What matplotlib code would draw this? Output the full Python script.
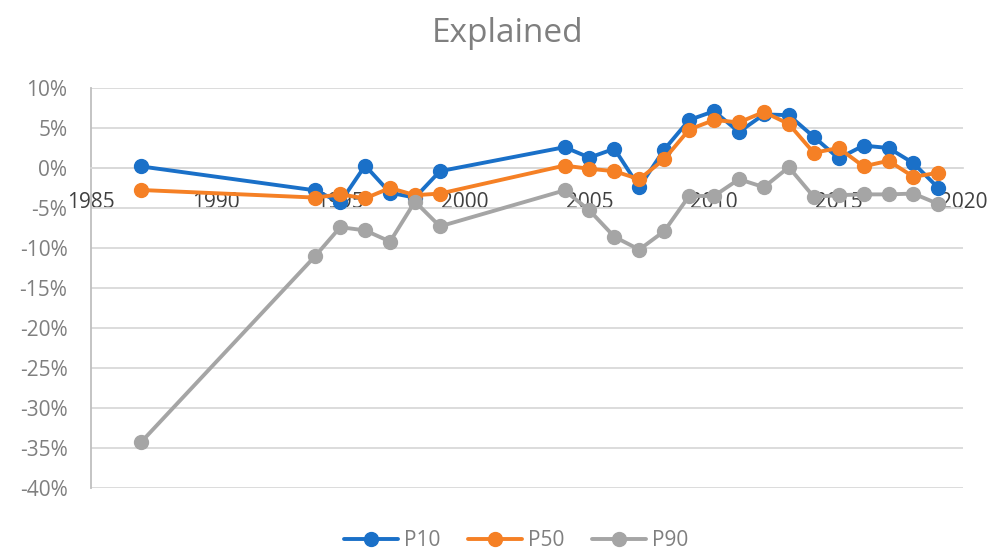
import matplotlib.pyplot as plt
from matplotlib.ticker import FuncFormatter

# Survey years
years = [1987, 1994, 1995, 1996, 1997, 1998, 1999,
         2004, 2005, 2006, 2007, 2008, 2009, 2010, 2011,
         2012, 2013, 2014, 2015, 2016, 2017, 2018, 2019]

# Share explained, in percent
p10 = [0.2, -2.8, -4.3, 0.3, -3.1, -3.7, -0.4,
       2.6, 1.3, 2.4, -2.4, 2.3, 6.0, 7.1, 4.5,
       6.7, 6.6, 3.9, 1.2, 2.8, 2.5, 0.6, -2.5]
p50 = [-2.75, -3.7, -3.3, -3.8, -2.5, -3.4, -3.2,
       0.3, -0.1, -0.4, -1.4, 1.1, 4.8, 6.0, 5.7,
       7.0, 5.5, 1.9, 2.5, 0.2, 0.9, -1.1, -0.6]
p90 = [-34.3, -11.0, -7.4, -7.8, -9.2, -4.2, -7.3,
       -2.8, -5.3, -8.6, -10.2, -7.9, -3.5, -3.5, -1.4,
       -2.4, 0.1, -3.6, -3.4, -3.3, -3.3, -3.2, -4.5]

series = [("P10", p10, "#1a70c8"),
          ("P50", p50, "#f58025"),
          ("P90", p90, "#a5a5a5")]

plt.rcParams['font.family'] = ['Open Sans', 'DejaVu Sans']

fig = plt.figure(figsize=(9.98, 5.52), dpi=100)
ax = fig.add_axes([0.0912, 0.116, 0.874, 0.7246])

for i, (name, vals, col) in enumerate(series):
    ax.plot(years, vals, color=col, lw=2.8, marker='o', markersize=10,
            label=name, zorder=3 + i, solid_capstyle='round')

ax.set_xlim(1985, 2020)
ax.set_ylim(-40, 10)
ax.set_xticks(range(1985, 2021, 5))
ax.set_yticks(range(-40, 11, 5))
ax.yaxis.set_major_formatter(FuncFormatter(lambda v, _: f"{v:.0f}%"))

# horizontal gridlines, x axis crosses at zero
ax.grid(axis='y', color='#d9d9d9', lw=1.3, zorder=0)
ax.spines['bottom'].set_position(('data', 0))
ax.spines['bottom'].set_color('#d9d9d9')
ax.spines['bottom'].set_linewidth(1.3)
for s in ['top', 'right']:
    ax.spines[s].set_visible(False)
ax.spines['left'].set_color('#bfbfbf')
ax.spines['left'].set_linewidth(1.3)

ax.tick_params(axis='x', length=0, pad=17, labelsize=15, labelcolor='#404040')
ax.tick_params(axis='y', length=0, pad=17, labelsize=15, labelcolor='#7f7f7f')
for lbl in ax.get_xticklabels():
    lbl.set_zorder(1)

fig.text(0.509, 0.94, "Explained", ha='center', va='center',
         fontsize=24, color='#7f7f7f')

fig.legend(loc='center', bbox_to_anchor=(0.517, 0.02), ncol=3, frameon=False,
           fontsize=15, labelcolor='#7f7f7f', handlelength=2.6,
           columnspacing=1.3, handletextpad=0.3)

fig.savefig("out.png", dpi=100)
